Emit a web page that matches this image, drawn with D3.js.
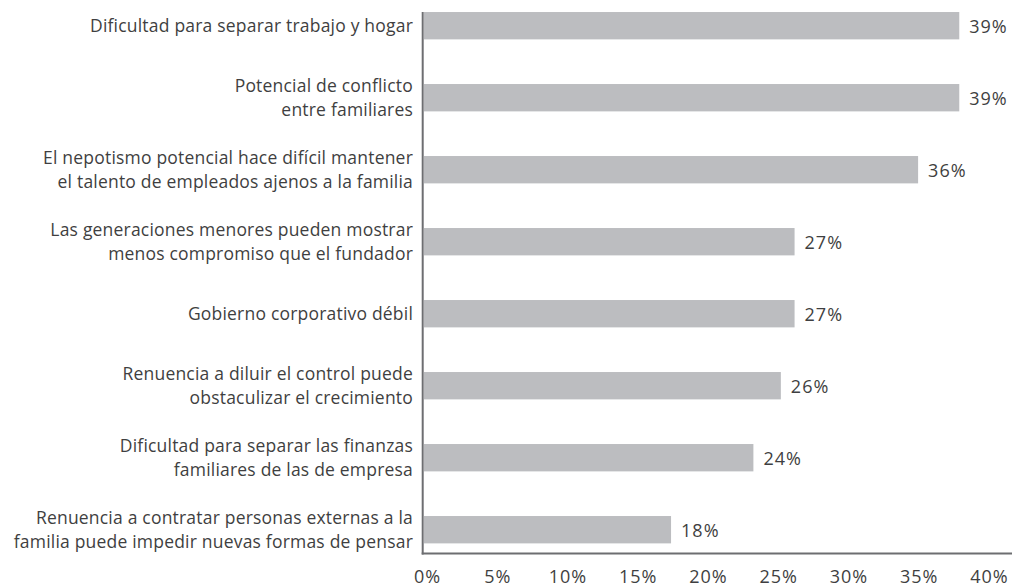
<!DOCTYPE html>
<html><head><meta charset="utf-8">
<script src="https://cdn.jsdelivr.net/npm/d3@7"></script>
<style>body{margin:0;background:#fff}svg{display:block}</style>
</head><body>
<script>
const categories = [
  ["Dificultad para separar trabajo y hogar"],
  ["Potencial de conflicto", "entre familiares"],
  ["El nepotismo potencial hace difícil mantener", "el talento de empleados ajenos a la familia"],
  ["Las generaciones menores pueden mostrar", "menos compromiso que el fundador"],
  ["Gobierno corporativo débil"],
  ["Renuencia a diluir el control puede", "obstaculizar el crecimiento"],
  ["Dificultad para separar las finanzas", "familiares de las de empresa"],
  ["Renuencia a contratar personas externas a la", "familia puede impedir nuevas formas de pensar"]
];
const values = [39, 39, 36, 27, 27, 26, 24, 18];
const ticks = [0, 5, 10, 15, 20, 25, 30, 35, 40];

const W = 1012, H = 587;
const svg = d3.select("body").append("svg").attr("width", W).attr("height", H);
const font = "'Open Sans', sans-serif";
const textColor = "#3f3f41";
const axisY = 553.5;

const x = d3.scaleLinear().domain([0, 40]).range([424, 973]);
// tick labels are typeset slightly wider than the bar scale in the original
const xLab = d3.scaleLinear().domain([0, 40]).range([427, 989]);
const y = d3.scaleBand().domain(d3.range(categories.length)).range([-10.3, 565.7])
  .paddingInner(0.62).paddingOuter(0.31);

svg.append("g").selectAll("rect").data(values).join("rect")
  .attr("x", x(0)).attr("y", (d, i) => y(i))
  .attr("width", d => x(d) - x(0)).attr("height", y.bandwidth())
  .attr("fill", "#bcbdc0");

svg.append("g").selectAll("text").data(values).join("text")
  .attr("x", d => x(d) + 10).attr("y", (d, i) => y(i) + y.bandwidth() / 2 + 1)
  .attr("dy", "0.35em").attr("font-family", font).attr("font-size", 18)
  .attr("letter-spacing", 1).attr("fill", textColor).text(d => d + "%");

const lab = svg.append("g").selectAll("text").data(categories).join("text")
  .attr("text-anchor", "end").attr("font-family", font).attr("font-size", 17.5)
  .attr("letter-spacing", 0.2).attr("fill", textColor);
lab.each(function (lines, i) {
  const cy = y(i) + y.bandwidth() / 2;
  const lh = 23.5;
  const t = d3.select(this);
  lines.forEach((l, k) => {
    t.append("tspan").attr("x", 413)
      .attr("y", cy + (k - (lines.length - 1) / 2) * lh)
      .attr("dy", "0.35em").text(l);
  });
});

// axes lines
svg.append("line").attr("x1", 422.7).attr("x2", 422.7).attr("y1", 12).attr("y2", axisY + 1)
  .attr("stroke", "#6d6e71").attr("stroke-width", 2);
svg.append("line").attr("x1", 421.7).attr("x2", W).attr("y1", axisY).attr("y2", axisY)
  .attr("stroke", "#6d6e71").attr("stroke-width", 2);

const xAxis = svg.append("g").attr("transform", `translate(0,${axisY})`)
  .call(d3.axisBottom(xLab).tickValues(ticks).tickFormat(d => d + "%").tickSize(0).tickPadding(0));
xAxis.select(".domain").remove();
xAxis.selectAll("text").attr("font-family", font).attr("font-size", 18)
  .attr("letter-spacing", 1).attr("fill", textColor).attr("y", 23.5).attr("dy", "0.35em");
</script>
</body></html>
